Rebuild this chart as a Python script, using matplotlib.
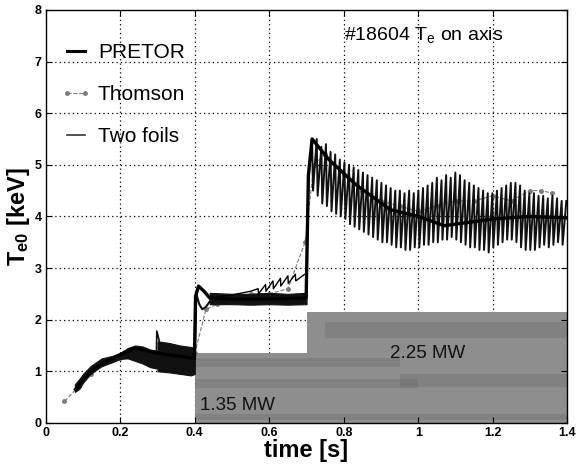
import numpy as np
import matplotlib
matplotlib.use("Agg")
import matplotlib.pyplot as plt
from matplotlib.lines import Line2D

plt.rcParams['font.family'] = ['Liberation Sans', 'DejaVu Sans']
plt.rcParams['mathtext.fontset'] = 'custom'
plt.rcParams['mathtext.rm'] = 'Liberation Sans'
plt.rcParams['mathtext.bf'] = 'Liberation Sans:bold'
plt.rcParams['mathtext.it'] = 'Liberation Sans'

# ---------------- data ----------------
# heating power (gray area)
power_t = [0.4, 0.7, 0.7, 1.4]
power_level = [1.35, 1.35, 2.15, 2.15]
# darker streaks in the power trace: start, end, low, high
streak_t0 = [0.4, 0.4, 0.4, 0.75, 0.95]
streak_t1 = [0.95, 1.0, 1.4, 1.4, 1.4]
streak_lo = [1.08, 0.68, 0.05, 1.65, 0.7]
streak_hi = [1.25, 0.85, 0.18, 1.95, 0.95]

# PRETOR simulation
pretor_t = [0.08, 0.1, 0.13, 0.16, 0.2, 0.24, 0.27, 0.30, 0.35, 0.399, 0.402, 0.41, 0.425,
            0.44, 0.5, 0.6, 0.699, 0.705, 0.715, 0.76, 0.835, 0.925, 1.0, 1.07, 1.15, 1.2,
            1.3, 1.4]
pretor_te = [0.65, 0.85, 1.05, 1.18, 1.32, 1.45, 1.4, 1.35, 1.3, 1.25, 2.45, 2.65, 2.55,
             2.42, 2.4, 2.4, 2.42, 4.8, 5.5, 5.1, 4.6, 4.13, 4.0, 3.82, 3.9, 3.95, 4.0, 3.97]

# PRETOR sawtooth branch before second heating step
ramp_t = [0.45, 0.5, 0.55, 0.57, 0.571, 0.59, 0.591, 0.61, 0.611, 0.63, 0.631, 0.65, 0.651,
          0.67, 0.671, 0.695, 0.70]
ramp_te = [2.42, 2.48, 2.55, 2.6, 2.5, 2.68, 2.55, 2.75, 2.6, 2.8, 2.65, 2.85, 2.7, 2.88,
           2.75, 2.88, 2.88]

# Thomson scattering
thomson_t = [0.05, 0.09, 0.12, 0.15, 0.2, 0.25, 0.3, 0.35, 0.4, 0.43, 0.46, 0.5, 0.55, 0.6,
             0.65, 0.696, 0.72, 0.75, 0.8, 0.85, 0.9, 0.95, 1.0, 1.05, 1.1, 1.15, 1.2, 1.25,
             1.3, 1.33, 1.36]
thomson_te = [0.42, 0.72, 0.95, 1.15, 1.25, 1.4, 1.2, 1.15, 1.35, 2.2, 2.3, 2.4, 2.5, 2.5,
              2.6, 3.5, 5.0, 5.2, 4.8, 4.5, 4.3, 4.2, 4.1, 4.2, 4.3, 4.3, 4.4, 4.3, 4.5, 4.5,
              4.45]

# Two foils: envelope bands (dense oscillations) in ohmic / first heating phase
band1_t = [0.078, 0.09, 0.1, 0.12, 0.15, 0.18, 0.2, 0.22, 0.24, 0.26, 0.28, 0.3]
band1_lo = [0.6, 0.66, 0.78, 0.95, 1.1, 1.18, 1.24, 1.25, 1.2, 1.15, 1.08, 1.05]
band1_hi = [0.75, 0.85, 0.95, 1.1, 1.25, 1.3, 1.36, 1.45, 1.5, 1.48, 1.42, 1.4]

band2_t = [0.3, 0.33, 0.36, 0.39, 0.4]
band2_lo = [1.0, 0.98, 0.95, 0.92, 0.95]
band2_hi = [1.35, 1.33, 1.3, 1.3, 1.32]

band3_t = [0.3, 0.33, 0.36, 0.39, 0.4]
band3_lo = [1.32, 1.3, 1.28, 1.27, 1.28]
band3_hi = [1.58, 1.55, 1.5, 1.47, 1.45]

spike_t = [0.297, 0.298, 0.306]
spike_te = [1.35, 1.78, 1.55]

loop_t = [0.4, 0.404, 0.412, 0.42, 0.43, 0.445]
loop_te = [1.3, 2.5, 2.3, 2.2, 2.25, 2.4]

band4_t = [0.44, 0.5, 0.55, 0.6, 0.65, 0.7]
band4_lo = [2.3, 2.3, 2.29, 2.3, 2.29, 2.3]
band4_hi = [2.52, 2.5, 2.5, 2.52, 2.5, 2.52]

# Two foils sawtooth in the second heating phase (one peak / trough per crash)
saw_start, saw_end = 0.705, 1.4
saw_peak = [5.45, 5.5, 5.35, 5.4, 5.25, 5.2, 5.1, 5.05, 5.0, 4.95, 4.9, 4.85, 4.8, 4.75,
            4.7, 4.65, 4.6, 4.55, 4.5, 4.5, 4.45, 4.5, 4.45, 4.5, 4.55, 4.6, 4.65, 4.75,
            4.7, 4.8, 4.75, 4.85, 4.8, 4.7, 4.65, 4.6, 4.55, 4.5, 4.45, 4.45, 4.5, 4.55,
            4.6, 4.65, 4.65, 4.6, 4.5, 4.45, 4.45, 4.4, 4.4, 4.35, 4.4, 4.35, 4.3, 4.3]
saw_trough = [4.7, 4.5, 4.4, 4.25, 4.2, 4.1, 4.05, 4.0, 3.95, 3.85, 3.8, 3.75, 3.7, 3.65,
              3.6, 3.55, 3.5, 3.5, 3.45, 3.4, 3.4, 3.35, 3.35, 3.4, 3.4, 3.45, 3.45, 3.5,
              3.5, 3.55, 3.55, 3.6, 3.55, 3.5, 3.45, 3.4, 3.4, 3.35, 3.35, 3.3, 3.4, 3.45,
              3.5, 3.55, 3.55, 3.5, 3.4, 3.35, 3.35, 3.35, 3.4, 3.45, 3.4, 3.45, 3.5, 3.45]

xticks = [0, 0.2, 0.4, 0.6, 0.8, 1.0, 1.2, 1.4]
xticklabels = ['0', '0.2', '0.4', '0.6', '0.8', '1', '1.2', '1.4']
yticks = [0, 1, 2, 3, 4, 5, 6, 7, 8]

# ---------------- figure ----------------
fig = plt.figure(figsize=(5.8, 4.72), dpi=100)
ax = fig.add_axes([0.079, 0.104, 0.899, 0.875])

ax.set_xlim(0, 1.4)
ax.set_ylim(0, 8)
ax.set_xticks(xticks)
ax.set_xticklabels(xticklabels)
ax.set_yticks(yticks)

# dotted grid
for xv in xticks[1:-1]:
    ax.axvline(xv, color='black', lw=0.9, ls=(0, (1, 2.5)), zorder=0.5)
for yv in yticks[1:-1]:
    ax.axhline(yv, color='black', lw=0.9, ls=(0, (1, 2.5)), zorder=0.5)

ax.fill_between(power_t, 0, power_level, color='#8e8e8e', lw=0, zorder=1)
for a, b, lo, hi in zip(streak_t0, streak_t1, streak_lo, streak_hi):
    ax.fill_between([a, b], [lo, lo], [hi, hi], color='#6a6a6a', alpha=0.35, lw=0,
                    zorder=1.1)

# Thomson
ax.plot(thomson_t, thomson_te, color='#7a7a7a', lw=0.8, ls='--', marker='o', ms=2.5,
        mfc='#7a7a7a', mec='#7a7a7a', zorder=2)

# Two foils
fc = '#111111'
for bt, blo, bhi in [(band1_t, band1_lo, band1_hi), (band2_t, band2_lo, band2_hi),
                     (band3_t, band3_lo, band3_hi), (band4_t, band4_lo, band4_hi)]:
    ax.fill_between(bt, blo, bhi, color=fc, lw=0.8, edgecolor=fc, zorder=3)
ax.plot(spike_t, spike_te, color=fc, lw=1.2, zorder=3)
ax.plot(loop_t, loop_te, color=fc, lw=1.5, zorder=3)

n = len(saw_peak)
period = (saw_end - saw_start) / n
st, sv = [0.699], [2.4]
for i in range(n):
    t0 = saw_start + i * period
    st += [t0, t0 + 0.8 * period]
    sv += [saw_trough[i], saw_peak[i]]
ax.plot(st, sv, color=fc, lw=1.4, zorder=3)

# PRETOR
ax.plot(ramp_t, ramp_te, color='black', lw=1.0, zorder=4)
ax.plot(pretor_t, pretor_te, color='black', lw=2.4, zorder=4)

# texts
ax.text(0.414, 0.25, '1.35 MW', fontsize=13.5, color='#111111', zorder=5)
ax.text(0.925, 1.26, '2.25 MW', fontsize=13.5, color='#111111', zorder=5)
ax.text(0.8, 7.42, r'#18604 T$_{\mathrm{e}}$ on axis', fontsize=14, zorder=5)

for lab in ax.get_xticklabels() + ax.get_yticklabels():
    lab.set_fontweight('bold')
    lab.set_fontsize(9)
ax.tick_params(direction='in', top=True, right=True, length=4, width=0.8, pad=3)
for s in ax.spines.values():
    s.set_linewidth(1.0)
    s.set_zorder(6)

ax.set_xlabel('time [s]', fontsize=17, fontweight='bold', labelpad=0)
ax.set_ylabel(r'T$_{\mathbf{e0}}$ [keV]', fontsize=17, fontweight='bold', labelpad=2)

handles = [Line2D([], [], color='black', lw=2.2),
           Line2D([], [], color='#7a7a7a', lw=0.8, ls='--', marker='o', ms=2.5),
           Line2D([], [], color='#333333', lw=1.2)]
leg = ax.legend(handles, ['PRETOR', 'Thomson', 'Two foils'], loc='upper left',
                bbox_to_anchor=(0.0, 0.955), frameon=False, fontsize=15,
                handlelength=1.5, handletextpad=0.3, labelspacing=1.1, numpoints=2,
                borderaxespad=0.3)

fig.savefig('out.png', dpi=100)
